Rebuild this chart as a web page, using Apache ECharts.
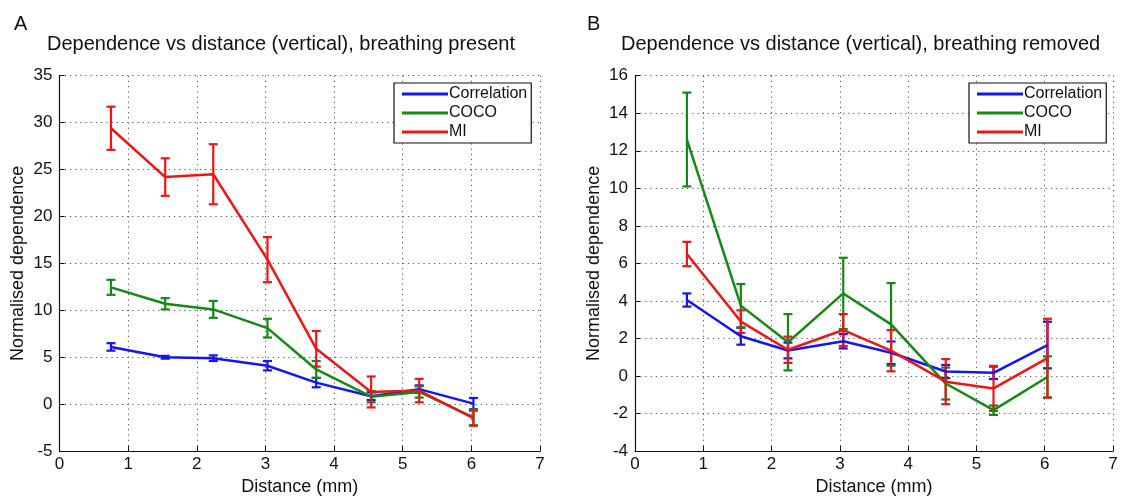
<!DOCTYPE html>
<html>
<head>
<meta charset="utf-8">
<script src="https://cdn.jsdelivr.net/npm/echarts@6/dist/echarts.min.js"></script>
<style>html,body{margin:0;padding:0;background:#fff}#c{width:1135px;height:501px}</style>
</head>
<body>
<div id="c"></div>
<script>
// ---- data ----
var seriesNames = ['Correlation', 'COCO', 'MI'];
var xA = [0.75, 1.54, 2.24, 3.03, 3.74, 4.54, 5.24, 6.03];
var corrA = [6.1, 5.0, 4.9, 4.1, 2.3, 0.85, 1.6, 0.06];
var corrAErr = [0.4, 0.15, 0.3, 0.5, 0.5, 0.4, 0.4, 0.6];
var cocoA = [12.45, 10.7, 10.1, 8.1, 3.7, 0.8, 1.3, -1.4];
var cocoAErr = [0.8, 0.6, 0.9, 1.0, 0.9, 0.6, 0.6, 0.85];
var miA = [29.4, 24.2, 24.5, 15.4, 5.9, 1.3, 1.45, -1.5];
var miAErr = [2.3, 2.0, 3.2, 2.4, 1.9, 1.65, 1.25, 0.8];

var xB = [0.76, 1.55, 2.24, 3.05, 3.75, 4.55, 5.25, 6.04];
var corrB = [4.05, 2.12, 1.36, 1.85, 1.24, 0.24, 0.17, 1.65];
var corrBErr = [0.35, 0.45, 0.42, 0.38, 0.6, 0.35, 0.33, 1.24];
var cocoB = [12.6, 3.75, 1.8, 4.4, 2.75, -0.4, -1.82, -0.05];
var cocoBErr = [2.5, 1.15, 1.5, 1.9, 2.2, 0.85, 0.25, 1.1];
var miB = [6.5, 2.9, 1.4, 2.45, 1.35, -0.3, -0.66, 0.95];
var miBErr = [0.65, 0.6, 0.7, 0.85, 1.1, 1.2, 1.2, 2.1];

var titleA = 'Dependence vs distance (vertical), breathing present';
var titleB = 'Dependence vs distance (vertical), breathing removed';
var xName = 'Distance (mm)';
var yName = 'Normalised dependence';

// ---- styles ----
var colors = ['#1414f5', '#138a13', '#ee1515'];
var FONT = 'Liberation Sans, Arial, Helvetica, sans-serif';

function pairs(xs, ys) { return xs.map(function (x, i) { return [x, ys[i]]; }); }
function errs(xs, ys, es) { return xs.map(function (x, i) { return [x, ys[i] - es[i], ys[i] + es[i]]; }); }

function errSeries(name, idx, data, color) {
  return {
    type: 'custom', name: name + ' err', xAxisIndex: idx, yAxisIndex: idx, z: 3,
    renderItem: function (params, api) {
      var x = api.value(0);
      var lo = api.coord([x, api.value(1)]);
      var hi = api.coord([x, api.value(2)]);
      var w = 4.5;
      var st = { stroke: color, lineWidth: 2.2 };
      return {
        type: 'group', children: [
          { type: 'line', shape: { x1: lo[0], y1: lo[1], x2: hi[0], y2: hi[1] }, style: st },
          { type: 'line', shape: { x1: lo[0] - w, y1: lo[1], x2: lo[0] + w, y2: lo[1] }, style: st },
          { type: 'line', shape: { x1: hi[0] - w, y1: hi[1], x2: hi[0] + w, y2: hi[1] }, style: st }
        ]
      };
    },
    encode: { x: 0, y: [1, 2] },
    data: data
  };
}
function lineSeries(name, idx, data, color) {
  return {
    type: 'line', name: name, xAxisIndex: idx, yAxisIndex: idx, z: 3,
    symbol: 'none', showSymbol: false, lineStyle: { color: color, width: 2.5 }, itemStyle: { color: color },
    data: data, animation: false
  };
}

var dotted = { color: '#555', width: 1, type: [1.2, 4] };
function xAxisCfg(idx) {
  return {
    type: 'value', gridIndex: idx, min: 0, max: 7, interval: 1,
    name: xName, nameLocation: 'middle', nameGap: 26,
    nameTextStyle: { fontSize: 18, color: '#111', fontFamily: FONT },
    axisLine: { show: true, onZero: false, lineStyle: { color: '#111', width: 1.2 } },
    axisTick: { show: true, inside: true, length: 5, lineStyle: { color: '#111' } },
    axisLabel: { fontSize: 17, color: '#111', margin: 5, fontFamily: FONT },
    splitLine: { show: true, lineStyle: dotted }
  };
}
function yAxisCfg(idx, min, max, step) {
  return {
    type: 'value', gridIndex: idx, min: min, max: max, interval: step,
    name: yName, nameLocation: 'middle', nameGap: 32, nameRotate: 90,
    nameTextStyle: { fontSize: 18, color: '#111', fontFamily: FONT },
    axisLine: { show: true, onZero: false, lineStyle: { color: '#111', width: 1.2 } },
    axisTick: { show: true, inside: true, length: 5, lineStyle: { color: '#111' } },
    axisLabel: { fontSize: 17, color: '#111', margin: 7, fontFamily: FONT },
    splitLine: { show: true, lineStyle: dotted }
  };
}
function legendCfg(left) {
  return {
    left: left, top: 83, orient: 'vertical',
    data: seriesNames.map(function (n) { return { name: n, icon: 'rect' }; }),
    backgroundColor: '#fff', borderColor: '#111', borderWidth: 1.2, borderRadius: 0,
    padding: [3, 4, 3, 8], itemGap: 3, itemWidth: 46, itemHeight: 3,
    textStyle: { fontSize: 16, lineHeight: 16, height: 16, color: '#111', fontFamily: FONT, padding: [0, 0, 0, -4] },
    selectedMode: false
  };
}

var series = [];
var setsA = [[corrA, corrAErr], [cocoA, cocoAErr], [miA, miAErr]];
var setsB = [[corrB, corrBErr], [cocoB, cocoBErr], [miB, miBErr]];
for (var i = 0; i < 3; i++) {
  series.push(errSeries(seriesNames[i], 0, errs(xA, setsA[i][0], setsA[i][1]), colors[i]));
  series.push(lineSeries(seriesNames[i], 0, pairs(xA, setsA[i][0]), colors[i]));
}
for (var j = 0; j < 3; j++) {
  series.push(errSeries(seriesNames[j], 1, errs(xB, setsB[j][0], setsB[j][1]), colors[j]));
  series.push(lineSeries(seriesNames[j], 1, pairs(xB, setsB[j][0]), colors[j]));
}

var chart = echarts.init(document.getElementById('c'), null, { renderer: 'canvas' });
chart.setOption({
  animation: false,
  backgroundColor: '#fff',
  color: colors,
  textStyle: { fontFamily: FONT },
  title: [
    { text: 'A', left: 9, top: 9, textStyle: { fontSize: 20, fontWeight: 'normal', color: '#111', fontFamily: FONT } },
    { text: titleA, left: 42, top: 29, textStyle: { fontSize: 20, fontWeight: 'normal', color: '#111', fontFamily: FONT } },
    { text: 'B', left: 582, top: 9, textStyle: { fontSize: 20, fontWeight: 'normal', color: '#111', fontFamily: FONT } },
    { text: titleB, left: 616, top: 29, textStyle: { fontSize: 20, fontWeight: 'normal', color: '#111', fontFamily: FONT } }
  ],
  legend: [legendCfg(394), legendCfg(969)],
  grid: [
    { left: 59.5, right: 595, top: 75.7, bottom: 48.3 },
    { left: 635, right: 22, top: 75.7, bottom: 48.3 }
  ],
  xAxis: [xAxisCfg(0), xAxisCfg(1)],
  yAxis: [yAxisCfg(0, -5, 35, 5), yAxisCfg(1, -4, 16, 2)],
  series: series
});
</script>
</body>
</html>
